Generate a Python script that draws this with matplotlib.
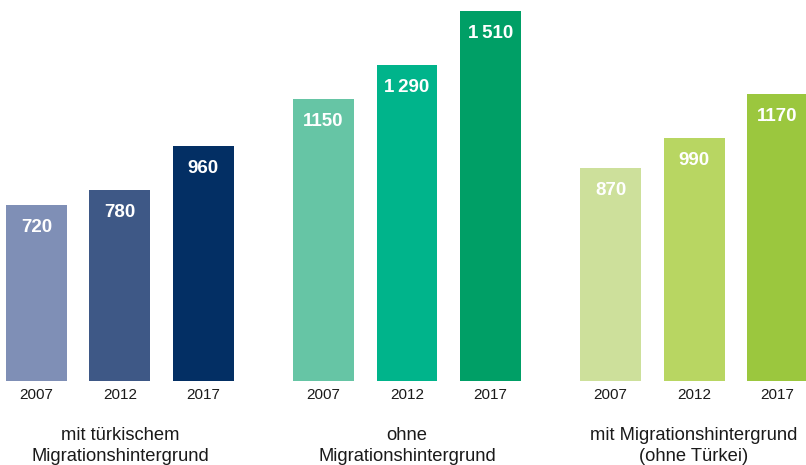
import matplotlib.pyplot as plt

groups = ["mit türkischem\nMigrationshintergrund", "ohne\nMigrationshintergrund",
          "mit Migrationshintergrund\n(ohne Türkei)"]
years = ["2007", "2012", "2017"]
values = [[720, 780, 960], [1150, 1290, 1510], [870, 990, 1170]]
labels = [["720", "780", "960"], ["1150", "1\u2009290", "1\u2009510"], ["870", "990", "1170"]]
colors = [["#7f8fb6", "#3e5886", "#032f64"],
          ["#66c5a5", "#00b48b", "#009f66"],
          ["#cde09b", "#b8d662", "#9bc73e"]]

plt.rcParams['font.family'] = ['Liberation Sans', 'DejaVu Sans']

fig = plt.figure(figsize=(8.06, 4.65), dpi=100)
ax = fig.add_axes([0, 84 / 465, 1, 381 / 465])

step = 3.44
for g in range(3):
    for i in range(3):
        x = g * step + i
        v = values[g][i]
        ax.bar(x, v, width=0.73, color=colors[g][i])
        ax.text(x, v - 92, labels[g][i], ha='center', va='center', color='white',
                fontsize=13.5, fontweight='bold')
        ax.text(x, -58, years[i], ha='center', va='center', color='#1a1a1a', fontsize=11)
    ax.text(g * step + 1, -265, groups[g], ha='center', va='center', color='#1a1a1a',
            fontsize=13.2, linespacing=1.25)

ax.set_xlim(-0.437, 2 * step + 2 + 28.5 / 83.5)
ax.set_ylim(0, 1555)
ax.axis('off')

fig.savefig("out.png", dpi=100)
